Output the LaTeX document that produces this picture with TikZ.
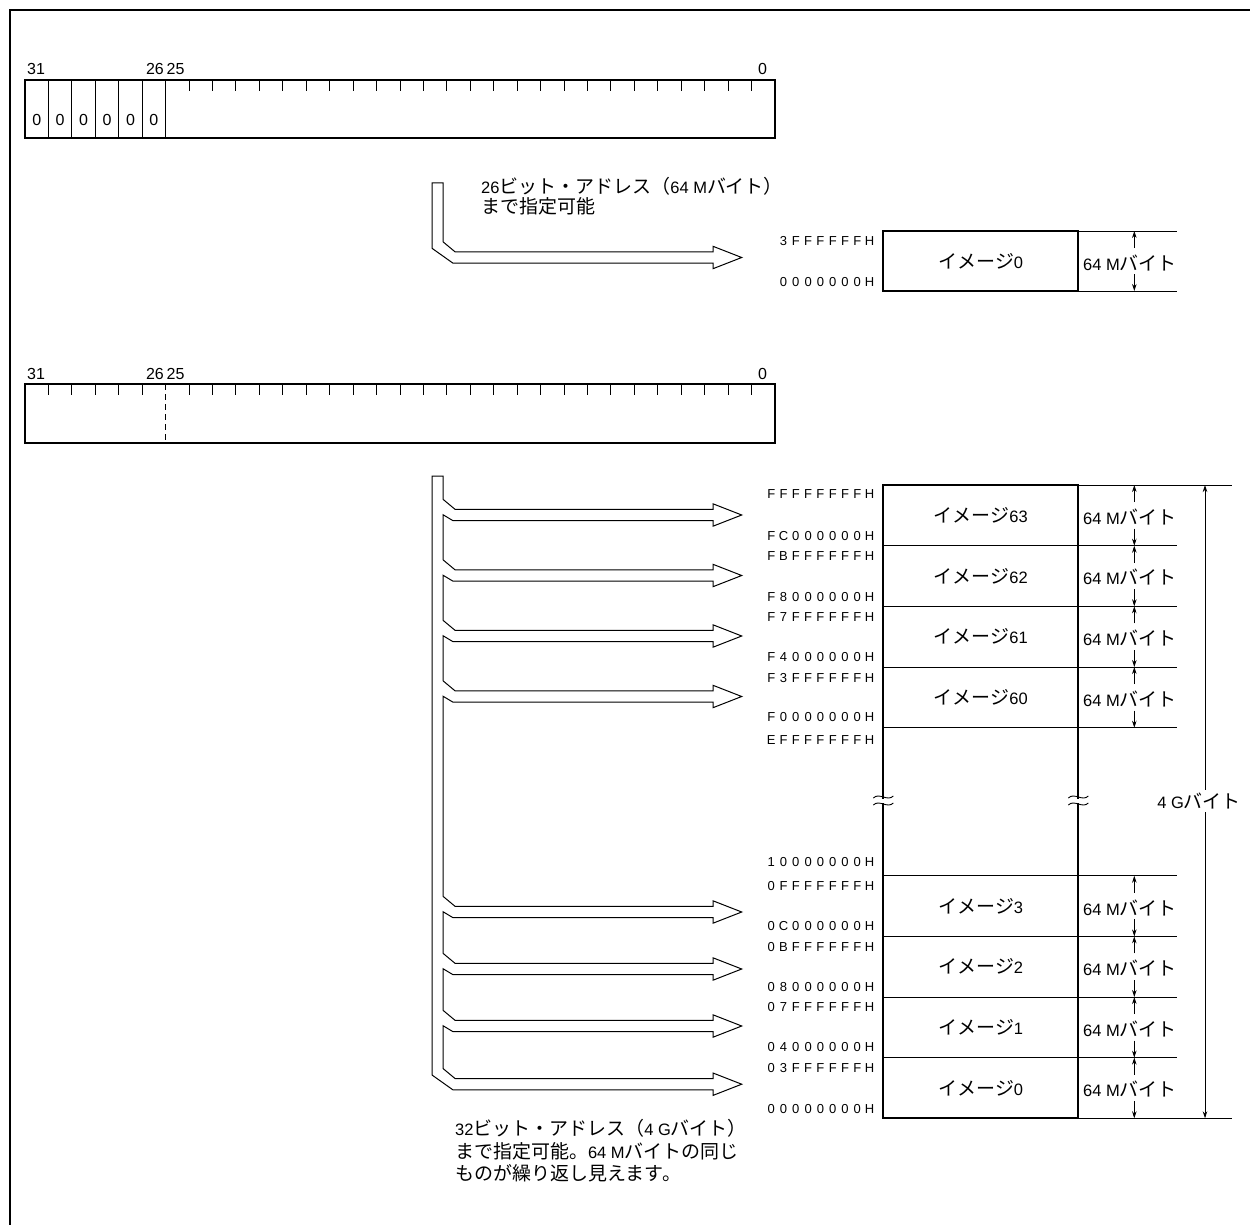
\documentclass[tikz,border=0pt]{standalone}
\usepackage{fontspec}
\setmainfont{Liberation Sans}
\newfontfamily\jp[Scale=1.15]{Noto Sans CJK JP}
\newcommand\J[1]{{\jp #1}}
\usetikzlibrary{arrows.meta}
\makeatletter
\newcommand\hexs[1]{\expandafter\hex@loop#1\@nil}
\def\hex@loop#1{\ifx#1\@nil\else\makebox[12.3pt]{#1}\expandafter\hex@loop\fi}
\makeatother
\begin{document}
\begin{tikzpicture}[x=1pt,y=-1pt,
  frameline/.style={line width=2.5pt},
  regbox/.style={line width=2pt},
  thinl/.style={line width=0.9pt},
  hexlbl/.style={anchor=east,inner sep=0pt,font=\fontsize{13}{13}\selectfont},
  txt/.style={inner sep=0pt,font=\fontsize{16.5}{20}\selectfont},
  bitlbl/.style={inner sep=0pt,font=\fontsize{16}{16}\selectfont},
  cellz/.style={inner sep=0pt,font=\fontsize{16}{16}\selectfont},
  dimarr/.style={line width=0.8pt,-{Stealth[length=7pt,width=4.5pt]}},
  hollow/.style={line width=1pt,line join=miter},
  memrow/.style={draw,thinl,minimum width=195pt,inner sep=0pt,font=\fontsize{16.5}{20}\selectfont}]
\useasboundingbox (0,0) rectangle (1250,1225);
% frame
\draw[frameline] (1250,10) -- (10,10) -- (10,1225);

% ---------- register 1 ----------
\draw[regbox] (25,80) rectangle (775,138);
\foreach \k in {1,...,6} \draw[thinl] ({25+23.4375*\k},80) -- ({25+23.4375*\k},138);
\foreach \k in {7,...,31} \draw[thinl] ({25+23.4375*\k},80) -- ({25+23.4375*\k},91);
\foreach \k in {0,...,5} \node[cellz] (z\k) at ({25+23.4375*(\k+0.5)},120) {0};
\node[bitlbl,anchor=west] (ra31) at (27,69) {31};
\node[bitlbl,anchor=east] (ra26) at (164,69) {26};
\node[bitlbl,anchor=west] (ra25) at (166.5,69) {25};
\node[bitlbl] (ra0) at (762.5,69) {0};

% ---------- register 2 ----------
\draw[regbox] (25,384) rectangle (775,443);
\foreach \k in {1,...,5,7,8,...,31} \draw[thinl] ({25+23.4375*\k},384) -- ({25+23.4375*\k},395);
\draw[thinl,dash pattern=on 6pt off 4pt] (165.6,384) -- (165.6,443);
\node[bitlbl,anchor=west] (rb31) at (27,374) {31};
\node[bitlbl,anchor=east] (rb26) at (164,374) {26};
\node[bitlbl,anchor=west] (rb25) at (166.5,374) {25};
\node[bitlbl] (rb0) at (762.5,374) {0};

% ---------- 26-bit arrow ----------
\draw[hollow] (432,183) -- (443,183) -- (443,241.8) -- (455,251.8) -- (713,251.8) -- (713,246.3) -- (741.7,257.5) -- (713,268.7) -- (713,263.2) -- (453,263.2) -- (432,248.3) -- cycle;
\node[txt,anchor=west] (t26a) at (481,186) {26\J{ビット・アドレス（}64 M\J{バイト）}};
\node[txt,anchor=west] (t26b) at (481,206) {\J{まで指定可能}};

% ---------- 64M memory ----------
\node[memrow,minimum height=60pt] (sm0) at (980.8,261) {\J{イメージ}0};
\draw[regbox] (883.3,231) rectangle (1078.3,291);
\draw[thinl] (1078.3,231) -- (1176.7,231);
\draw[thinl] (1078.3,291) -- (1176.7,291);
\draw[dimarr] (1134.3,248) -- (1134.3,231);
\draw[dimarr] (1134.3,274) -- (1134.3,291);
\node[txt,anchor=west] (sd0) at (1083,263) {64 M\J{バイト}};
\node[hexlbl] (sh1) at (876,241) {\hexs{3FFFFFFH}};
\node[hexlbl] (sh0) at (876,282) {\hexs{0000000H}};

% ---------- 32-bit arrows ----------
\draw[hollow] (432,476) -- (443,476)
  \foreach \c in {515,575.5,636,696.5,912,969,1026} {
   -- (443,{\c-15.7}) -- (455,{\c-5.7}) -- (713,{\c-5.7}) -- (713,{\c-11.2}) -- (741.7,\c)
   -- (713,{\c+11.2}) -- (713,{\c+5.7}) -- (453,{\c+5.7}) -- (443,{\c-0.3}) }
  -- (443,1068.5) -- (455,1078.5) -- (713,1078.5) -- (713,1073) -- (741.7,1084.2)
  -- (713,1095.4) -- (713,1089.9) -- (453,1089.9) -- (432,1075) -- cycle;
\node[txt,anchor=west] (t32a) at (455,1128) {32\J{ビット・アドレス（}4 G\J{バイト）}};
\node[txt,anchor=west] (t32b) at (455,1151) {\J{まで指定可能。}64 M\J{バイトの同じ}};
\node[txt,anchor=west] (t32c) at (455,1173) {\J{ものが繰り返し見えます。}};

% ---------- 4G memory ----------
\foreach \t/\b/\n in {485/545.7/63,545.7/606.3/62,606.3/667/61,667/727.7/60,875.7/936.4/3,936.4/997/2,997/1057.6/1,1057.6/1118.3/0} {
  \node[memrow,minimum height={\b-\t}] (m\n) at (980.8,{(\t+\b)/2}) {\J{イメージ}\n};
  \draw[dimarr] (1134.3,{\t+17}) -- (1134.3,\t);
  \draw[dimarr] (1134.3,{\b-17}) -- (1134.3,\b);
  \node[txt,anchor=west] (d\n) at (1083,{(\t+\b)/2+1.5}) {64 M\J{バイト}};
}
\foreach \y in {545.7,606.3,667,727.7,875.7,936.4,997,1057.6} \draw[thinl] (1078.3,\y) -- (1176.7,\y);
\draw[thinl] (1078.3,485) -- (1232,485);
\draw[thinl] (1078.3,1118.3) -- (1232,1118.3);
\draw[thinl] (883.3,727.7) -- (1078.3,727.7);
\draw[thinl] (883.3,875.7) -- (1078.3,875.7);
% thick outline
\draw[regbox] (883.3,485) -- (1078.3,485);
\draw[regbox] (883.3,1118.3) -- (1078.3,1118.3);
\draw[regbox] (883.3,484) -- (883.3,1119.3);
\draw[regbox] (1078.3,484) -- (1078.3,1119.3);
% break marks
\foreach \bx in {883.3,1078.3} {
  \fill[white] ({\bx-3},798.5) rectangle ({\bx+3},802.5);
  \draw[thinl] ({\bx-10},798) .. controls ({\bx-4},792) and ({\bx+4},802) .. ({\bx+10},796);
  \draw[thinl] ({\bx-10},805) .. controls ({\bx-4},799) and ({\bx+4},809) .. ({\bx+10},803);
}
% 4G dimension
\draw[line width=0.8pt,{Stealth[length=7pt,width=4.5pt]}-{Stealth[length=7pt,width=4.5pt]}] (1205,485) -- (1205,1118.3);
\node[txt,fill=white,inner sep=3pt] (g4) at (1199,801) {4 G\J{バイト}};

% hex labels
\foreach \y/\s in {494/FFFFFFFFH,536/FC000000H,556/FBFFFFFFH,597/F8000000H,617/F7FFFFFFH,657/F4000000H,678/F3FFFFFFH,717/F0000000H,740/EFFFFFFFH,862/10000000H,886/0FFFFFFFH,926/0C000000H,947/0BFFFFFFH,987/08000000H,1007/07FFFFFFH,1047/04000000H,1068/03FFFFFFH,1109/00000000H}
  \node[hexlbl] (h\s) at (876,\y) {\hexs{\s}};
\end{tikzpicture}
\end{document}
